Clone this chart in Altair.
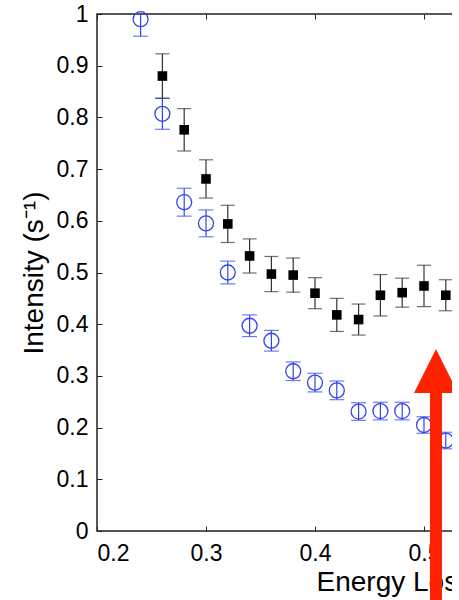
import altair as alt
import pandas as pd

# ---- data ----
energy_blue = [0.24, 0.26, 0.28, 0.30, 0.32, 0.34, 0.36, 0.38, 0.40, 0.42, 0.44, 0.46, 0.48, 0.50, 0.52]
intensity_blue = [0.990, 0.807, 0.636, 0.595, 0.500, 0.397, 0.368, 0.309, 0.287, 0.272, 0.231, 0.232, 0.232, 0.205, 0.175]
error_blue = [0.033, 0.030, 0.027, 0.026, 0.022, 0.021, 0.020, 0.018, 0.018, 0.018, 0.017, 0.017, 0.017, 0.016, 0.016]

energy_black = [0.26, 0.28, 0.30, 0.32, 0.34, 0.36, 0.38, 0.40, 0.42, 0.44, 0.46, 0.48, 0.50, 0.52]
intensity_black = [0.880, 0.776, 0.681, 0.594, 0.532, 0.497, 0.495, 0.460, 0.418, 0.409, 0.456, 0.461, 0.474, 0.456]
error_black = [0.043, 0.041, 0.037, 0.036, 0.033, 0.034, 0.033, 0.030, 0.032, 0.030, 0.040, 0.028, 0.040, 0.030]

x_ticks = [0.2, 0.3, 0.4, 0.5]
y_ticks = [0.0, 0.1, 0.2, 0.3, 0.4, 0.5, 0.6, 0.7, 0.8, 0.9, 1.0]

# annotation arrow (data coordinates)
arrow_x = 0.511
arrow_tip = 0.352
arrow_head_base = 0.267
arrow_tail = -0.25

blue_df = pd.DataFrame({
    "e": energy_blue,
    "i": intensity_blue,
    "lo": [v - d for v, d in zip(intensity_blue, error_blue)],
    "hi": [v + d for v, d in zip(intensity_blue, error_blue)],
})
black_df = pd.DataFrame({
    "e": energy_black,
    "i": intensity_black,
    "lo": [v - d for v, d in zip(intensity_black, error_black)],
    "hi": [v + d for v, d in zip(intensity_black, error_black)],
})
arrow_df = pd.DataFrame({
    "x": [arrow_x],
    "tip": [arrow_tip],
    "base": [arrow_head_base],
    "tail": [arrow_tail],
    "mid": [(arrow_tip + arrow_head_base) / 2],
})

W, H = 360, 517
xdom = [0.2, 0.2 + W / 1090.0]

FONT = "Liberation Sans"
AX = "#222222"

xscale = alt.Scale(domain=xdom, nice=False, zero=False)
yscale = alt.Scale(domain=[0, 1], nice=False)

x_axis = alt.Axis(
    values=x_ticks, format=".1f", title="Energy Loss (eV)",
    titleX=219, titleY=59, titleAlign="left", titleBaseline="alphabetic",
    titleAnchor="start",
    grid=True, gridDash=[5, 507, 5, 1000], gridColor=AX, gridWidth=1, gridOpacity=1,
    ticks=False, tickSize=0, domain=False,
    labelPadding=11, labelFontSize=23, labelFont=FONT, labelColor="black",
    titleFontSize=28, titleFont=FONT, titleColor="black", titleFontWeight="normal",
)
y_axis = alt.Axis(
    values=y_ticks, format=".1~f", title="Intensity (s\u207b\u00b9)",
    titleX=-55, titleY=H / 2, titleAngle=-90, titleAlign="center",
    titleBaseline="alphabetic",
    grid=True, gridDash=[5, 350, 5, 1000], gridColor=AX, gridWidth=1, gridOpacity=1,
    ticks=False, tickSize=0, domain=False,
    labelPadding=9, labelFontSize=23, labelFont=FONT, labelColor="black",
    titleFontSize=28, titleFont=FONT, titleColor="black", titleFontWeight="normal",
)

BLUE = "#3344ee"
BLACK_BAR = "#333333"

blue_bar = alt.Chart(blue_df).mark_rule(color=BLUE, strokeWidth=1.2, clip=True).encode(
    x=alt.X("e:Q", scale=xscale, axis=x_axis),
    y=alt.Y("lo:Q", scale=yscale, axis=y_axis),
    y2="hi:Q",
)
blue_cap_lo = alt.Chart(blue_df).mark_tick(color=BLUE, orient="horizontal", size=15, thickness=1.2, clip=True).encode(
    x=alt.X("e:Q", scale=xscale), y=alt.Y("lo:Q", scale=yscale))
blue_cap_hi = alt.Chart(blue_df).mark_tick(color=BLUE, orient="horizontal", size=15, thickness=1.2, clip=True).encode(
    x=alt.X("e:Q", scale=xscale), y=alt.Y("hi:Q", scale=yscale))
blue_pts = alt.Chart(blue_df).mark_point(shape="circle", size=225, filled=False, color=BLUE, strokeWidth=1.3, opacity=1).encode(
    x=alt.X("e:Q", scale=xscale), y=alt.Y("i:Q", scale=yscale))

black_bar = alt.Chart(black_df).mark_rule(color=BLACK_BAR, strokeWidth=1.2, clip=True).encode(
    x=alt.X("e:Q", scale=xscale), y=alt.Y("lo:Q", scale=yscale), y2="hi:Q")
black_cap_lo = alt.Chart(black_df).mark_tick(color=BLACK_BAR, orient="horizontal", size=14, thickness=1.2, clip=True).encode(
    x=alt.X("e:Q", scale=xscale), y=alt.Y("lo:Q", scale=yscale))
black_cap_hi = alt.Chart(black_df).mark_tick(color=BLACK_BAR, orient="horizontal", size=14, thickness=1.2, clip=True).encode(
    x=alt.X("e:Q", scale=xscale), y=alt.Y("hi:Q", scale=yscale))
black_pts = alt.Chart(black_df).mark_point(shape="square", size=92, filled=True, color="black", opacity=1).encode(
    x=alt.X("e:Q", scale=xscale), y=alt.Y("i:Q", scale=yscale))

RED = "#ff2200"
arrow_shaft = alt.Chart(arrow_df).mark_rule(color=RED, strokeWidth=12, clip=False, strokeCap="butt").encode(
    x=alt.X("x:Q", scale=xscale), y=alt.Y("tail:Q", scale=yscale), y2="base:Q")
arrow_head = alt.Chart(arrow_df).mark_point(shape="M0,-1L1,1L-1,1Z", size=1936, filled=True, color=RED, opacity=1, clip=False).encode(
    x=alt.X("x:Q", scale=xscale), y=alt.Y("mid:Q", scale=yscale))

chart = alt.layer(
    blue_bar, blue_cap_lo, blue_cap_hi, blue_pts,
    black_bar, black_cap_lo, black_cap_hi, black_pts,
    arrow_shaft, arrow_head,
).properties(
    width=W, height=H,
    autosize=alt.AutoSizeParams(type="none"),
    padding={"left": 97, "top": 14, "right": -5, "bottom": 69},
    background="white",
).configure_view(
    stroke=AX, strokeWidth=1.5,
)

chart.save("out.html", embed_options={"renderer": "svg", "actions": False})
